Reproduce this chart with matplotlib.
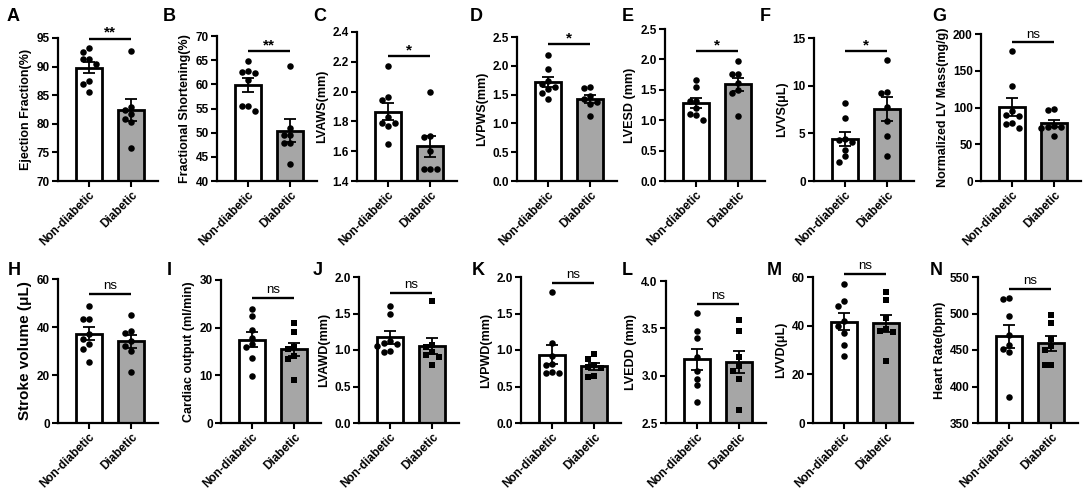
import matplotlib
matplotlib.use('Agg')
import matplotlib.pyplot as plt
import numpy as np
from matplotlib.ticker import MultipleLocator, FormatStrFormatter

plt.rcParams['font.family'] = ['Liberation Sans', 'DejaVu Sans']
plt.rcParams['font.weight'] = 'bold'

groups = ['Non-diabetic', 'Diabetic']
letters = list('ABCDEFGHIJKLMN')
ylabels = ['Ejection Fraction(%)', 'Fractional Shortening(%)', 'LVAWS(mm)', 'LVPWS(mm)',
           'LVESD (mm)', 'LVVS(μL)', 'Normalized LV Mass(mg/g)',
           'Stroke volume (μL)', 'Cardiac output (ml/min)', 'LVAWD(mm)', 'LVPWD(mm)',
           'LVEDD (mm)', 'LVVD(μL)', 'Heart Rate(bpm)']

nondiabetic = [
    [93.2, 92.5, 91.3, 91.3, 90.4, 87.4, 87.0, 85.6],
    [64.9, 62.8, 62.5, 62.4, 60.9, 55.5, 55.5, 54.4],
    [2.175, 1.965, 1.945, 1.83, 1.79, 1.79, 1.77, 1.645],
    [2.18, 1.95, 1.74, 1.68, 1.64, 1.60, 1.52, 1.42],
    [1.665, 1.545, 1.32, 1.31, 1.20, 1.10, 1.08, 1.00],
    [8.2, 6.56, 4.4, 4.3, 4.1, 3.3, 2.6, 2.0],
    [177, 129, 95, 90, 88, 79, 78, 72],
    [48.9, 43.5, 43.5, 37, 35, 33, 31, 25.4],
    [24.0, 22.5, 19.6, 17.9, 16.5, 16.0, 13.7, 9.8],
    [1.60, 1.49, 1.12, 1.09, 1.08, 1.05, 0.98, 0.97],
    [1.80, 1.09, 0.92, 0.81, 0.80, 0.70, 0.68, 0.68],
    [3.66, 3.47, 3.40, 3.20, 3.05, 2.97, 2.90, 2.72],
    [57, 50, 48, 42, 40, 37, 32, 27.5],
    [521, 520, 497, 470, 457, 452, 447, 386],
]
diabetic = [
    [92.7, 82.9, 82.5, 81.7, 80.8, 80.4, 75.8],
    [63.8, 51.0, 49.6, 49.6, 47.8, 47.8, 43.5],
    [2.0, 1.70, 1.695, 1.60, 1.48, 1.48, 1.48],
    [1.64, 1.61, 1.47, 1.43, 1.38, 1.33, 1.12],
    [1.97, 1.76, 1.76, 1.62, 1.50, 1.45, 1.07],
    [12.7, 9.3, 9.2, 7.8, 6.3, 4.7, 2.6],
    [98, 96, 75, 74, 73, 72, 61],
    [45, 38.5, 37.5, 34, 32, 30, 21.2],
    [20.9, 19.0, 16.0, 15.5, 14.0, 13.5, 9.1],
    [1.67, 1.07, 1.04, 0.97, 0.93, 0.90, 0.79],
    [0.95, 0.87, 0.80, 0.77, 0.75, 0.65, 0.63],
    [3.59, 3.47, 3.20, 3.10, 3.05, 2.97, 2.64],
    [54, 50.5, 43, 38.5, 38, 37.5, 25.6],
    [498, 487, 465, 455, 450, 430, 429],
]
sig_labels = ['**', '**', '*', '*', '*', '*', 'ns',
              'ns', 'ns', 'ns', 'ns', 'ns', 'ns', 'ns']
bracket_y = [94.9, 66.9, 2.24, 2.38, 2.13, 13.6, 189,
             53.8, 26.3, 1.785, 1.92, 3.76, 61.4, 534]
y_ranges = [(70, 95, 5), (40, 70, 5), (1.4, 2.4, 0.2), (0, 2.5, 0.5), (0, 2.5, 0.5),
            (0, 15, 5), (0, 200, 50), (0, 60, 20), (0, 30, 10), (0, 2, 0.5),
            (0, 2, 0.5), (2.5, 4, 0.5), (0, 60, 20), (350, 550, 50)]
decimals = [0, 0, 1, 1, 1, 0, 0, 0, 0, 1, 1, 1, 0, 0]

# layout, pixels
W, H = 1084, 499
axis_left = [58, 217, 357, 517, 665, 814, 981, 58, 221, 359, 521, 666, 813, 978]
axis_top = [38, 36, 32, 37, 29, 38, 34, 279, 280, 277, 277, 281, 277, 277]
axis_bottom = [181] * 7 + [423] * 7
letter_x = [7, 163, 313, 470, 622, 760, 932, 8, 167, 313, 472, 622, 767, 930]
letter_top = [8] * 7 + [262] * 7
ax_w = 100
x_lo, x_hi = -0.74, 1.64
gray = '#a6a6a6'


def swarm(vals, px_per_unit, dot=6.5):
    # simple beeswarm: offsets in pixels
    vals = np.asarray(vals, float)
    order = np.argsort(-vals)
    placed = []
    offs = np.zeros(len(vals))
    for i in order:
        y = vals[i] * px_per_unit
        for k in [0, -1, 1, -2, 2, -3, 3]:
            x = k * dot
            if all((x - px) ** 2 + (y - py) ** 2 >= dot ** 2 for px, py in placed):
                break
        placed.append((x, y))
        offs[i] = x
    return offs


fig = plt.figure(figsize=(W / 100, H / 100), dpi=100)

for i in range(14):
    h_px = axis_bottom[i] - axis_top[i]
    ax = fig.add_axes([axis_left[i] / W, (H - axis_bottom[i]) / H, ax_w / W, h_px / H])
    lo, hi, step = y_ranges[i]
    px_unit_y = h_px / (hi - lo)
    px_unit_x = ax_w / (x_hi - x_lo)

    data = [np.array(nondiabetic[i]), np.array(diabetic[i])]
    means = [d.mean() for d in data]
    sems = [d.std(ddof=1) / np.sqrt(len(d)) for d in data]

    ax.bar([0, 1], means, width=0.62, color=['white', gray], edgecolor='black',
           linewidth=2.0, zorder=2)
    ax.errorbar([0, 1], means, yerr=sems, fmt='none', ecolor='black', elinewidth=1.3,
                capsize=4, capthick=1.3, zorder=3)
    diab_marker = 'o' if i < 8 else 's'
    for j, d in enumerate(data):
        offs = swarm(d, px_unit_y) / px_unit_x
        mk = 'o' if j == 0 else diab_marker
        ax.scatter(j + offs, d, s=22 if mk == 'o' else 19, color='black', marker=mk,
                   linewidths=0, zorder=4, clip_on=False)

    # significance bracket
    by = bracket_y[i]
    ax.plot([0, 1], [by, by], color='black', lw=1.7, clip_on=False,
            solid_capstyle='butt')
    is_ns = sig_labels[i] == 'ns'
    ax.annotate(sig_labels[i], (0.5, by), xytext=(0, 1 if is_ns else -1),
                textcoords='offset points', ha='center', va='bottom',
                fontsize=9.5 if is_ns else 11, annotation_clip=False,
                fontweight='normal' if is_ns else 'bold')

    ax.set_xlim(x_lo, x_hi)
    ax.set_ylim(lo, hi)
    ax.yaxis.set_major_locator(MultipleLocator(step))
    ax.yaxis.set_major_formatter(FormatStrFormatter('%.' + str(decimals[i]) + 'f'))
    ax.set_xticks([0, 1])
    ax.set_xticklabels(groups, rotation=45, ha='right', rotation_mode='anchor',
                       fontsize=8.5, fontweight='bold')
    for lab in ax.get_yticklabels():
        lab.set_fontsize(8.5)
        lab.set_fontweight('bold')
    ax.tick_params(axis='both', width=1.5, length=4, pad=2)
    for side in ['top', 'right']:
        ax.spines[side].set_visible(False)
    for side in ['left', 'bottom']:
        ax.spines[side].set_linewidth(1.6)
    ax.set_ylabel(ylabels[i], fontsize=11 if i == 7 else 9, fontweight='bold', labelpad=3)

    fig.text(letter_x[i] / W, 1 - letter_top[i] / H, letters[i], fontsize=13,
             fontweight='bold', ha='left', va='top')

fig.savefig('out.png', dpi=100)
